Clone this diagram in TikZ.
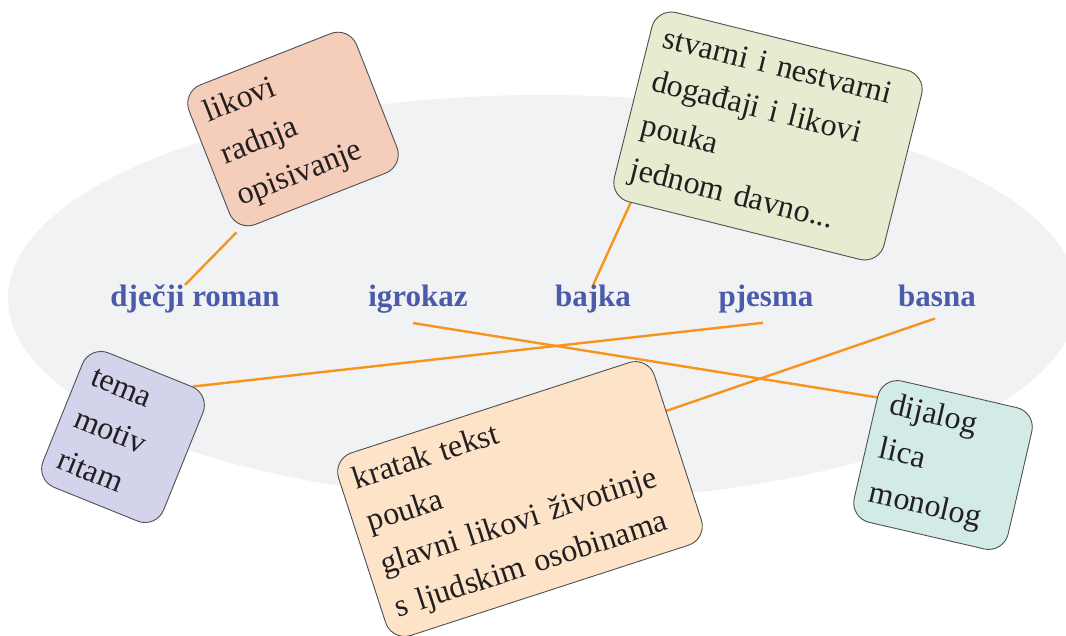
\documentclass[tikz,border=0pt]{standalone}
\usepackage{fontspec}
\setmainfont{Liberation Serif}
\usetikzlibrary{calc}
\definecolor{ellgray}{HTML}{F1F2F4}
\definecolor{lblue}{HTML}{4B5BA9}
\definecolor{connc}{HTML}{F7941D}
\definecolor{pinkbox}{HTML}{F4CDBB}
\definecolor{greenbox}{HTML}{E7ECD1}
\definecolor{purplebox}{HTML}{D3D4EB}
\definecolor{orangebox}{HTML}{FDE4C9}
\definecolor{tealbox}{HTML}{D3EBE7}
\definecolor{boxline}{HTML}{505050}
\definecolor{textdark}{HTML}{231F20}
\pgfdeclarelayer{bg}
\pgfsetlayers{bg,main}
\begin{document}
\begin{tikzpicture}[x=1pt,y=-1pt,
  card/.style={draw=boxline, line width=0.9pt, rounded corners=20pt, align=left,
    font=\fontsize{32}{45}\selectfont, text=textdark, inner xsep=14pt, inner ysep=0pt},
  genre/.style={font=\fontsize{31}{36}\selectfont\bfseries, text=lblue, anchor=base, inner sep=0pt},
  link/.style={draw=connc, line width=2.4pt}]
\useasboundingbox (0,0) rectangle (1066,636);
\clip (0,0) rectangle (1066,636);

% genre labels
\node[genre] (roman) at (195,307) {dječji roman};
\node[genre] (igrokaz) at (418,307) {igrokaz};
\node[genre] (bajka) at (593,307) {bajka};
\node[genre] (pjesma) at (766,307) {pjesma};
\node[genre] (basna) at (937,307) {basna};

% cards
\node[card, fill=pinkbox, minimum width=180pt, text width=152pt, minimum height=150pt, rotate=21.5]
  (pink) at (293,129) {likovi\\radnja\\opisivanje};
\node[card, fill=greenbox, minimum width=278pt, text width=250pt, minimum height=195pt, rotate=-14]
  (green) at (768,136) {stvarni i nestvarni\\događaji i likovi\\pouka\\jednom davno...};
\node[card, fill=purplebox, minimum width=130pt, text width=102pt, minimum height=145pt, rotate=-22]
  (purple) at (123,437) {tema\\motiv\\ritam};
\node[card, fill=orangebox, minimum width=332pt, text width=304pt, minimum height=192pt, rotate=18]
  (orange) at (520,499) {kratak tekst\\pouka\\glavni likovi životinje\\s ljudskim osobinama};
\node[card, fill=tealbox, minimum width=158pt, text width=130pt, minimum height=145pt, rotate=-13]
  (teal) at (943,465) {dijalog\\lica\\monolog};

\begin{pgfonlayer}{bg}
\fill[ellgray] (543,298) ellipse [x radius=535, y radius=203];
\draw[link] ([xshift=-10pt]roman.north) -- (pink.south west);
\draw[link] (bajka.north) -- ($(green.south west)!0.08!(green.south east)$);
\draw[link] ([xshift=-5pt,yshift=-9pt]igrokaz.south) -- ($(teal.north west)!0.15!(teal.south west)$);
\draw[link] ([xshift=-3pt,yshift=-9pt]pjesma.south) -- ($(purple.north west)!0.85!(purple.north east)$);
\draw[link] ([xshift=-2pt,yshift=-11pt]basna.south) -- ($(orange.north east)!0.3!(orange.south east)$);
\end{pgfonlayer}
\end{tikzpicture}
\end{document}
